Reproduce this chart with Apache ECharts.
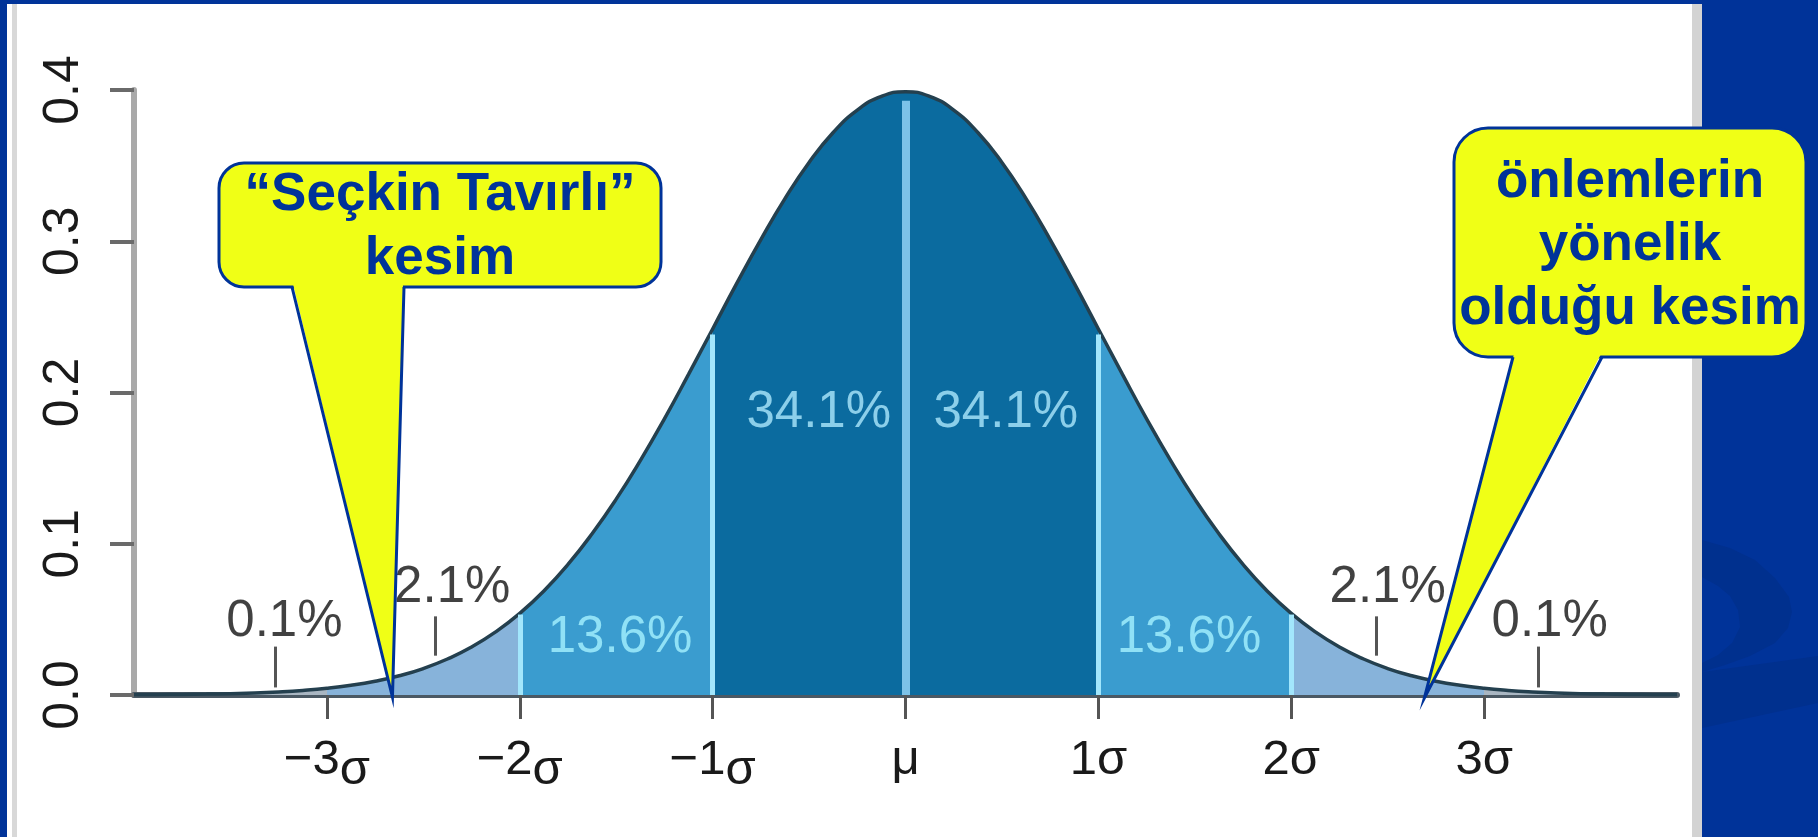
<!DOCTYPE html>
<html>
<head>
<meta charset="utf-8">
<script src="https://cdn.jsdelivr.net/npm/echarts@6/dist/echarts.min.js"></script>
<style>
  html, body { margin: 0; padding: 0; background: #003399; }
  #chart { width: 1818px; height: 837px; }
</style>
</head>
<body>
<div id="chart"></div>
<script>
// density curve, x in sigma units
var sigmaX = [-4, -3.875, -3.75, -3.625, -3.5, -3.375, -3.25, -3.125, -3, -2.875, -2.75, -2.625, -2.5, -2.375, -2.25, -2.125,
              -2, -1.875, -1.75, -1.625, -1.5, -1.375, -1.25, -1.125, -1, -0.875, -0.75, -0.625, -0.5, -0.375, -0.25, -0.125,
              0, 0.125, 0.25, 0.375, 0.5, 0.625, 0.75, 0.875, 1, 1.125, 1.25, 1.375, 1.5, 1.625, 1.75, 1.875,
              2, 2.125, 2.25, 2.375, 2.5, 2.625, 2.75, 2.875, 3, 3.125, 3.25, 3.375, 3.5, 3.625, 3.75, 3.875, 4];
var density = [0.0001, 0.0002, 0.0004, 0.0006, 0.0009, 0.0013, 0.0020, 0.0030, 0.0044, 0.0064, 0.0091, 0.0127, 0.0175, 0.0238, 0.0317, 0.0417,
               0.0540, 0.0688, 0.0863, 0.1066, 0.1295, 0.1550, 0.1826, 0.2120, 0.2420, 0.2721, 0.3011, 0.3282, 0.3521, 0.3719, 0.3867, 0.3958,
               0.3989, 0.3958, 0.3867, 0.3719, 0.3521, 0.3282, 0.3011, 0.2721, 0.2420, 0.2120, 0.1826, 0.1550, 0.1295, 0.1066, 0.0863, 0.0688,
               0.0540, 0.0417, 0.0317, 0.0238, 0.0175, 0.0127, 0.0091, 0.0064, 0.0044, 0.0030, 0.0020, 0.0013, 0.0009, 0.0006, 0.0004, 0.0002, 0.0001];

// shaded bands
var bandEdges = [-3, -2, -1, 1, 2, 3];
var bandColors = ['#a9b6c2', '#87b3da', '#3a9ccf', '#0b6b9f', '#3a9ccf', '#87b3da', '#a9b6c2'];
var dividers = [-2, -1, 0, 1, 2];

// percentages
var pctText = ['0.1%', '2.1%', '13.6%', '34.1%', '34.1%', '13.6%', '2.1%', '0.1%'];
var pctX = [-3.22, -2.35, -1.48, -0.45, 0.52, 1.47, 2.50, 3.34];
var pctY = [0.0480, 0.0705, 0.0380, 0.1865, 0.1865, 0.0380, 0.0705, 0.0480];
var pinX = [-3.27, -2.44, 2.44, 3.28];
var pinLow = [0.005, 0.026, 0.026, 0.005];
var pinHigh = [0.032, 0.052, 0.052, 0.032];

var xTicks = [-3, -2, -1, 0, 1, 2, 3];

// callouts
var calloutLines = [['“Seçkin Tavırlı”', 'kesim'], ['önlemlerin', 'yönelik', 'olduğu kesim']];
var calloutTipX = [-2.66, 2.69];

var FONT = '"Liberation Sans", Arial, sans-serif';

function heightAt(x) {
  return density[sigmaX.indexOf(x)];
}

var curve = sigmaX.map(function (x, i) { return [x, density[i]]; });

var pieces = [];
for (var i = 0; i <= bandEdges.length; i++) {
  var p = { color: bandColors[i] };
  if (i > 0) p.gte = bandEdges[i - 1];
  if (i < bandEdges.length) p.lt = bandEdges[i];
  pieces.push(p);
}

var dividerLines = dividers.map(function (x) {
  var st = x === 0 ? { color: '#7cc2e8', width: 8 } : { color: '#a2e6fc', width: 5 };
  return [{ coord: [x, 0], lineStyle: st }, { coord: [x, heightAt(x) * 0.985] }];
});

var pinLines = pinX.map(function (x, i) {
  return [{ coord: [x, pinLow[i]] }, { coord: [x, pinHigh[i]] }];
});

var pctData = pctText.map(function (t, i) {
  var inside = Math.abs(pctX[i]) < 2;
  return {
    name: t,
    value: [pctX[i], pctY[i]],
    label: { color: inside ? (Math.abs(pctX[i]) < 1 ? '#ace8fc' : '#a6f2ff') : '#111111' }
  };
});

function xLabel(v) {
  if (v === 0) return '{p|μ}';
  if (v < 0) return '−' + (-v) + '{n|σ}';
  return v + '{p|σ}';
}

var chart = echarts.init(document.getElementById('chart'));

var option = {
  backgroundColor: '#003399',
  animation: false,
  grid: { left: 134, right: 141, top: 90, bottom: 142 },
  xAxis: {
    type: 'value',
    min: -4,
    max: 4,
    interval: 1,
    splitLine: { show: false },
    axisLine: { show: true, onZero: false, lineStyle: { color: '#4b5964', width: 6 } },
    axisTick: { show: true, customValues: xTicks, length: 24, lineStyle: { color: '#555', width: 3 } },
    axisLabel: {
      customValues: xTicks,
      formatter: xLabel,
      margin: 31,
      color: '#1a1a1a',
      fontSize: 49,
      fontFamily: FONT,
      rich: {
        n: { fontSize: 49, fontFamily: FONT, color: '#1a1a1a', padding: [20, 0, 0, 0] },
        p: { fontSize: 49, fontFamily: FONT, color: '#1a1a1a', padding: [10, 0, 10, 0] }
      }
    }
  },
  yAxis: {
    type: 'value',
    min: 0,
    max: 0.4,
    interval: 0.1,
    splitLine: { show: false },
    axisLine: { show: true, onZero: false, lineStyle: { color: '#a9a9a9', width: 6 } },
    axisTick: { show: true, length: 24, lineStyle: { color: '#6a6a6a', width: 4 } },
    axisLabel: {
      rotate: 90,
      margin: 45,
      color: '#1a1a1a',
      fontSize: 50,
      fontFamily: FONT,
      formatter: function (v) { return v.toFixed(1); }
    }
  },
  visualMap: {
    type: 'piecewise',
    show: false,
    dimension: 0,
    seriesIndex: 0,
    pieces: pieces
  },
  series: [
    {
      type: 'line',
      data: curve,
      smooth: true,
      symbol: 'none',
      silent: true,
      z: 2,
      lineStyle: { width: 0, opacity: 0 },
      areaStyle: { opacity: 1 },
      markLine: {
        silent: true,
        symbol: ['none', 'none'],
        label: { show: false },
        lineStyle: { type: 'solid' },
        data: dividerLines
      }
    },
    {
      type: 'line',
      data: curve,
      smooth: true,
      symbol: 'none',
      silent: true,
      z: 3,
      lineStyle: { color: '#24404f', width: 3.5 },
      markLine: {
        silent: true,
        symbol: ['none', 'none'],
        label: { show: false },
        lineStyle: { type: 'solid', color: '#555', width: 3 },
        data: pinLines
      }
    },
    {
      type: 'scatter',
      data: pctData,
      symbolSize: 1,
      silent: true,
      z: 4,
      itemStyle: { color: 'rgba(0,0,0,0)' },
      label: {
        show: true,
        position: 'inside',
        formatter: '{b}',
        fontSize: 51,
        fontFamily: FONT
      }
    }
  ]
};

chart.setOption(option);

var tipL = chart.convertToPixel({ gridIndex: 0 }, [calloutTipX[0], 0]);
var tipR = chart.convertToPixel({ gridIndex: 0 }, [calloutTipX[1], 0]);
tipL[1] += 2; tipR[1] += 3;

var YELLOW = '#f0ff16';
var BLUE = '#003399';
var textFont = 'bold 53px ' + FONT;

// speech bubble: rounded box, filled pointer, cover for the box edge, then the pointer's two sides
function bubble(L, T, R, B, r, p1, p2, tip) {
  return [
    { type: 'rect', z: 100, shape: { x: L, y: T, width: R - L, height: B - T, r: r },
      style: { fill: YELLOW, stroke: BLUE, lineWidth: 3 } },
    { type: 'polygon', z: 101, shape: { points: [[p1 + 1, B - 3], tip, [p2 - 1, B - 3]] },
      style: { fill: YELLOW } },
    { type: 'polyline', z: 102, shape: { points: [[p1, B], tip, [p2, B]] },
      style: { fill: null, stroke: BLUE, lineWidth: 3, lineJoin: 'miter' } }
  ];
}

var SWOOSH = '#00308e';
var elements = [
  // white slide panel and its frame
  { type: 'rect', z: -2, shape: { x: 7, y: 4, width: 1695, height: 833 }, style: { fill: '#ffffff' } },
  { type: 'rect', z: -2, shape: { x: 12, y: 4, width: 5, height: 833 }, style: { fill: '#d8d8d8' } },
  { type: 'rect', z: -2, shape: { x: 1692, y: 4, width: 10, height: 833 }, style: { fill: '#d3d3d3' } },
  // background swooshes on the right
  { type: 'polygon', z: -2, shape: { points: [[1702, 540], [1730, 548], [1755, 560], [1775, 578], [1789, 597], [1792, 612],
      [1788, 628], [1775, 643], [1750, 656], [1725, 665], [1702, 672],
      [1702, 663], [1718, 655], [1732, 643], [1740, 627], [1738, 610], [1730, 596], [1718, 586], [1702, 577]] },
    style: { fill: SWOOSH } },
  { type: 'polygon', z: -2, shape: { points: [[1702, 672], [1818, 656], [1818, 703], [1702, 728]] }, style: { fill: SWOOSH } }
];
elements = elements.concat(bubble(219, 163, 661, 287, 25, 292, 404, tipL));
elements = elements.concat(bubble(1454, 128, 1806, 357, 34, 1513, 1602, tipR));

var leftBase = [213, 277];
calloutLines[0].forEach(function (t, i) {
  elements.push({ type: 'text', z: 103, x: 440, y: leftBase[i] - 18,
    style: { text: t, font: textFont, fill: BLUE, align: 'center', verticalAlign: 'middle' } });
});
var rightBase = [200, 263, 327];
calloutLines[1].forEach(function (t, i) {
  elements.push({ type: 'text', z: 103, x: 1630, y: rightBase[i] - 18,
    style: { text: t, font: textFont, fill: BLUE, align: 'center', verticalAlign: 'middle' } });
});

chart.setOption({ graphic: { elements: elements } });
</script>
</body>
</html>
